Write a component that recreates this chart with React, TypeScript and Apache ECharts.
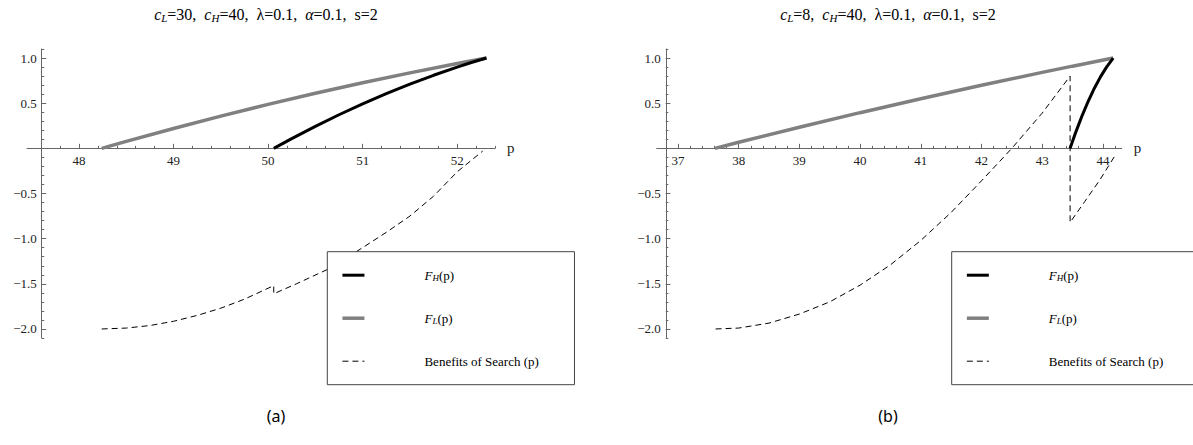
import { useEffect, useRef } from 'react';
import * as echarts from 'echarts';

const SERIF = '"Liberation Serif", "Times New Roman", serif';
const AXIS = '#666666';
const LABEL = '#222222';

// ---------- titles & captions ----------
const titleA = '{i|c}{s|L}=30,  {i|c}{s|H}=40,  λ=0.1,  {i|α}=0.1,  s=2';
const titleB = '{i|c}{s|L}=8,  {i|c}{s|H}=40,  λ=0.1,  {i|α}=0.1,  s=2';
const captions = ['(a)', '(b)'];
const seriesNames = ['F_H(p)', 'F_L(p)', 'Benefits of Search (p)'];

// ---------- panel (a) data ----------
const aHighP = [50.06, 50.25, 50.5, 50.75, 51.0, 51.25, 51.5, 51.75, 52.0, 52.15, 52.31];
const aHighF = [0, 0.108, 0.244, 0.372, 0.492, 0.605, 0.711, 0.809, 0.899, 0.95, 1.0];
const aLowP = [48.24, 48.5, 49.0, 49.5, 50.0, 50.5, 51.0, 51.5, 52.0, 52.31];
const aLowF = [0, 0.077, 0.22, 0.357, 0.487, 0.61, 0.726, 0.836, 0.939, 1.0];
const aSearchP = [48.24, 48.5, 48.75, 49.0, 49.25, 49.5, 49.75, 50.06, 50.06, 50.3, 50.63, 51.0, 51.25, 51.5, 51.75, 52.0, 52.27];
const aSearchB = [-2.0, -1.99, -1.962, -1.915, -1.85, -1.77, -1.67, -1.52, -1.61, -1.5, -1.34, -1.1, -0.93, -0.75, -0.53, -0.26, -0.03];

// ---------- panel (b) data ----------
const bHighP = [43.46, 43.56, 43.66, 43.76, 43.86, 43.96, 44.06, 44.17];
const bHighF = [0, 0.191, 0.366, 0.524, 0.666, 0.791, 0.899, 1.0];
const bLowP = [37.61, 38.0, 39.0, 40.0, 41.0, 42.0, 43.0, 43.5, 44.17];
const bLowF = [0, 0.067, 0.234, 0.395, 0.55, 0.698, 0.841, 0.91, 1.0];
const bSearchP = [37.62, 38.0, 38.5, 39.0, 39.5, 40.0, 40.5, 41.0, 41.5, 42.0, 42.5, 43.0, 43.46, 43.46, 43.7, 43.95, 44.2];
const bSearchB = [-2.0, -1.99, -1.935, -1.835, -1.7, -1.515, -1.29, -1.02, -0.71, -0.36, 0.0, 0.39, 0.8, -0.82, -0.59, -0.35, -0.08];

// ---------- axes ----------
const yRange = [-2.1, 1.1];
const yMajorTicks = [-2, -1.5, -1, -0.5, 0.5, 1];
const aRange = [47.45, 52.4];
const aYAxisAt = 47.606;
const aMajorTicks = [48, 49, 50, 51, 52];
const bRange = [36.65, 44.31];
const bYAxisAt = 36.8;
const bMajorTicks = [37, 38, 39, 40, 41, 42, 43, 44];

function steps(from: number, to: number, step: number): number[] {
  const out: number[] = [];
  const n = Math.round((to - from) / step);
  for (let i = 0; i <= n; i++) out.push(Math.round((from + i * step) * 1000) / 1000);
  return out;
}
const aMinorTicks = steps(47.8, 52.4, 0.2);
const bMinorTicks = steps(37.0, 44.2, 0.2);
const yMinorTicks = steps(-2.1, 1.1, 0.1);

const zip = (xs: number[], ys: number[]) => xs.map((x, i) => [x, ys[i]]);

const gridA = { left: 27, top: 49, width: 468, height: 289 };
const gridB = { left: 656.7, top: 49, width: 465, height: 289 };
// distance (px) from the grid's bottom edge up to the y = 0 line
const zeroOffset = -((0 - yRange[0]) / (yRange[1] - yRange[0])) * gridA.height;

function xAxes(gridIndex: number, range: number[], minor: number[], major: number[], onZeroIdx: number) {
  const common = {
    type: 'value',
    gridIndex,
    min: range[0],
    max: range[1],
    position: 'bottom',
    splitLine: { show: false },
  };
  return [
    {
      ...common,
      name: 'p',
      nameLocation: 'end',
      nameGap: 12,
      nameTextStyle: { fontFamily: SERIF, fontSize: 15, color: LABEL, verticalAlign: 'middle' },
      axisLine: { show: true, onZero: true, onZeroAxisIndex: onZeroIdx, lineStyle: { color: AXIS, width: 1 } },
      axisTick: { show: true, inside: true, length: 2.5, customValues: minor, lineStyle: { color: AXIS } },
      axisLabel: { show: false },
    },
    {
      ...common,
      offset: zeroOffset,
      axisLine: { show: false, onZero: false },
      axisTick: { show: true, inside: true, length: 4.5, customValues: major, lineStyle: { color: AXIS } },
      axisLabel: {
        show: true,
        customValues: major,
        margin: 6,
        fontFamily: SERIF,
        fontSize: 13,
        color: LABEL,
        formatter: (v: number) => String(Math.round(v)),
      },
    },
  ];
}

function yAxes(gridIndex: number, offset: number) {
  const common = {
    type: 'value',
    gridIndex,
    min: yRange[0],
    max: yRange[1],
    position: 'left',
    offset,
    splitLine: { show: false },
  };
  return [
    {
      ...common,
      axisLine: { show: true, onZero: false, lineStyle: { color: AXIS, width: 1 } },
      axisTick: { show: true, inside: true, length: 4.5, customValues: yMajorTicks, lineStyle: { color: AXIS } },
      axisLabel: {
        show: true,
        customValues: yMajorTicks,
        margin: 5,
        fontFamily: SERIF,
        fontSize: 13,
        color: LABEL,
        formatter: (v: number) => v.toFixed(1).replace('-', '\u2212'),
      },
    },
    {
      ...common,
      axisLine: { show: false, onZero: false },
      axisTick: { show: true, inside: true, length: 2.5, customValues: yMinorTicks, lineStyle: { color: AXIS } },
      axisLabel: { show: false },
    },
  ];
}

function panelSeries(xIdx: number, yIdx: number, hp: number[], hf: number[], lp: number[], lf: number[], sp: number[], sb: number[]) {
  const base = { type: 'line', xAxisIndex: xIdx, yAxisIndex: yIdx, symbol: 'none', showSymbol: false, smooth: false };
  return [
    { ...base, name: seriesNames[2], data: zip(sp, sb), z: 2, itemStyle: { color: '#000' }, lineStyle: { color: '#000', width: 1, type: [6, 4] } },
    { ...base, name: seriesNames[1], data: zip(lp, lf), z: 3, itemStyle: { color: '#808080' }, lineStyle: { color: '#808080', width: 3.5 } },
    { ...base, name: seriesNames[0], data: zip(hp, hf), z: 4, itemStyle: { color: '#000' }, lineStyle: { color: '#000', width: 3 } },
  ];
}

const legendRich = {
  i: { fontFamily: SERIF, fontSize: 13, fontStyle: 'italic', color: '#000' },
  s: { fontFamily: SERIF, fontSize: 9, fontStyle: 'italic', color: '#000', padding: [6, 0, 0, 0] },
};
const legendFormatter = (name: string) => {
  if (name === 'F_H(p)') return '{i|F}{s|H}(p)';
  if (name === 'F_L(p)') return '{i|F}{s|L}(p)';
  return name;
};
function legendAt(left: number, padRight: number) {
  return {
    show: true,
    orient: 'vertical',
    left,
    top: 251.7,
    data: [seriesNames[0], seriesNames[1], seriesNames[2]],
    padding: [17, padRight, 17, 13.4],
    itemWidth: 22,
    itemHeight: 14,
    itemGap: 29,
    borderColor: '#444',
    borderWidth: 1,
    backgroundColor: '#fff',
    selectedMode: false,
    itemStyle: { opacity: 0, borderWidth: 0 },
    lineStyle: { width: 'inherit' },
    formatter: legendFormatter,
    textStyle: { fontFamily: SERIF, fontSize: 13, color: '#000', width: 130, padding: [0, 0, 0, 55], rich: legendRich },
  };
}

const titleRich = {
  i: { fontFamily: SERIF, fontSize: 16, fontStyle: 'italic', color: '#000' },
  s: { fontFamily: SERIF, fontSize: 11, fontStyle: 'italic', color: '#000', padding: [7, 0, 0, 0] },
};

export default function App() {
  const ref = useRef<HTMLDivElement>(null);
  useEffect(() => {
    if (!ref.current) return;
    const chart = echarts.init(ref.current, undefined, { renderer: 'svg' });
    const offA = -((aYAxisAt - aRange[0]) / (aRange[1] - aRange[0])) * gridA.width;
    const offB = -((bYAxisAt - bRange[0]) / (bRange[1] - bRange[0])) * gridB.width;
    const option = {
      animation: false,
      backgroundColor: '#ffffff',
      title: [
        { text: titleA, left: 266, top: 5, textAlign: 'center', padding: 0, textStyle: { fontFamily: SERIF, fontSize: 16, fontWeight: 'normal', color: '#000', rich: titleRich } },
        { text: titleB, left: 888, top: 5, textAlign: 'center', padding: 0, textStyle: { fontFamily: SERIF, fontSize: 16, fontWeight: 'normal', color: '#000', rich: titleRich } },
        { text: captions[0], left: 276, top: 408, textAlign: 'center', padding: 0, textStyle: { fontFamily: '"Noto Sans", sans-serif', fontSize: 16, fontWeight: 'normal', color: '#000' } },
        { text: captions[1], left: 888, top: 408, textAlign: 'center', padding: 0, textStyle: { fontFamily: '"Noto Sans", sans-serif', fontSize: 16, fontWeight: 'normal', color: '#000' } },
      ],
      legend: [legendAt(327.3, 35.6), legendAt(951.7, 300)],
      grid: [gridA, gridB],
      xAxis: [...xAxes(0, aRange, aMinorTicks, aMajorTicks, 0), ...xAxes(1, bRange, bMinorTicks, bMajorTicks, 2)],
      yAxis: [...yAxes(0, offA), ...yAxes(1, offB)],
      series: [
        ...panelSeries(0, 0, aHighP, aHighF, aLowP, aLowF, aSearchP, aSearchB),
        ...panelSeries(2, 2, bHighP, bHighF, bLowP, bLowF, bSearchP, bSearchB),
      ],
    };
    chart.setOption(option as any);
    return () => chart.dispose();
  }, []);
  return <div ref={ref} style={{ position: 'fixed', left: 0, top: 0, width: 1193, height: 445, background: '#fff' }} />;
}
